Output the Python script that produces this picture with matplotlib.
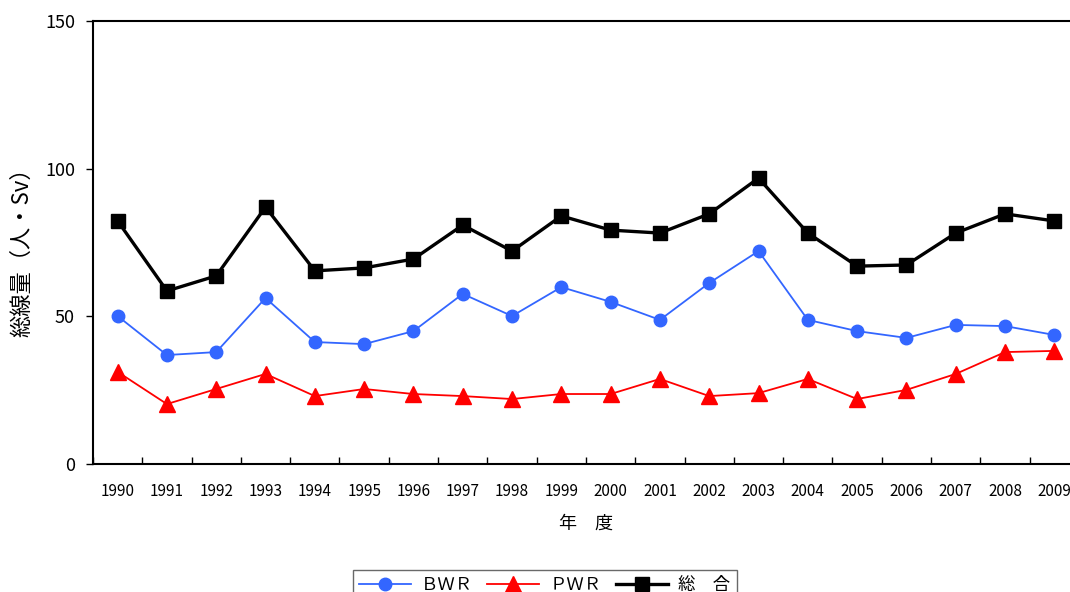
import matplotlib.pyplot as plt
import numpy as np

plt.rcParams['font.family'] = ['Noto Sans CJK JP', 'DejaVu Sans']

years = ['1990', '1991', '1992', '1993', '1994', '1995', '1996', '1997', '1998', '1999',
         '2000', '2001', '2002', '2003', '2004', '2005', '2006', '2007', '2008', '2009']
bwr = [50.1, 36.9, 37.9, 56.2, 41.3, 40.6, 45.0, 57.6, 50.1, 59.9,
       54.9, 48.8, 61.3, 72.1, 48.8, 45.0, 42.7, 47.1, 46.7, 43.7]
pwr = [31.2, 20.3, 25.4, 30.5, 23.0, 25.4, 23.7, 23.0, 22.0, 23.7,
       23.7, 28.8, 23.0, 24.0, 28.8, 22.0, 25.1, 30.5, 37.9, 38.3]
total = [82.3, 58.6, 63.7, 87.0, 65.4, 66.4, 69.4, 80.9, 72.1, 84.0,
         79.2, 78.2, 84.7, 96.8, 78.2, 67.0, 67.4, 78.2, 84.7, 82.3]

fig = plt.figure(figsize=(10.7, 5.92), dpi=100)
# chart is cut off on the right in the original, so the axes run past the edge
ax = fig.add_axes([0.0869, 0.2162, 0.9215, 0.7483])

x = np.arange(len(years))
ax.plot(x, bwr, color='#3366ff', lw=1.3, marker='o', ms=9, label='ＢＷＲ')
ax.plot(x, pwr, color='#ff0000', lw=1.3, marker='^', ms=11, label='ＰＷＲ')
ax.plot(x, total, color='black', lw=2.4, marker='s', ms=10, label='総　合')

ax.set_xlim(-0.5, len(years) - 0.5)
ax.set_ylim(0, 150)
ax.set_yticks([0, 50, 100, 150])
ax.tick_params(axis='y', direction='out', length=5, width=1, labelsize=13, pad=8)
ax.set_xticks(x)
ax.set_xticklabels(years)
ax.tick_params(axis='x', which='major', length=0, labelsize=11, pad=14)
ax.set_xticks(np.arange(-0.5, len(years), 1), minor=True)
ax.tick_params(axis='x', which='minor', direction='in', length=5, width=1)

for s in ['left', 'bottom', 'top']:
    ax.spines[s].set_linewidth(1.5)
ax.spines['right'].set_visible(False)

ax.set_ylabel('総線量（人・Sv）', fontsize=16, va='center')
ax.yaxis.set_label_coords(-0.072, 0.49)
ax.set_xlabel('年　度', fontsize=13, labelpad=10)

leg = fig.legend(loc='upper center', bbox_to_anchor=(0.509, 0.052), ncol=3,
                 fontsize=12.5, frameon=True, fancybox=False, handlelength=3,
                 columnspacing=0.8, handletextpad=0.6, borderpad=0.35)
leg.get_frame().set_edgecolor('#444444')
leg.get_frame().set_linewidth(1)

fig.savefig('out.png', dpi=100)
